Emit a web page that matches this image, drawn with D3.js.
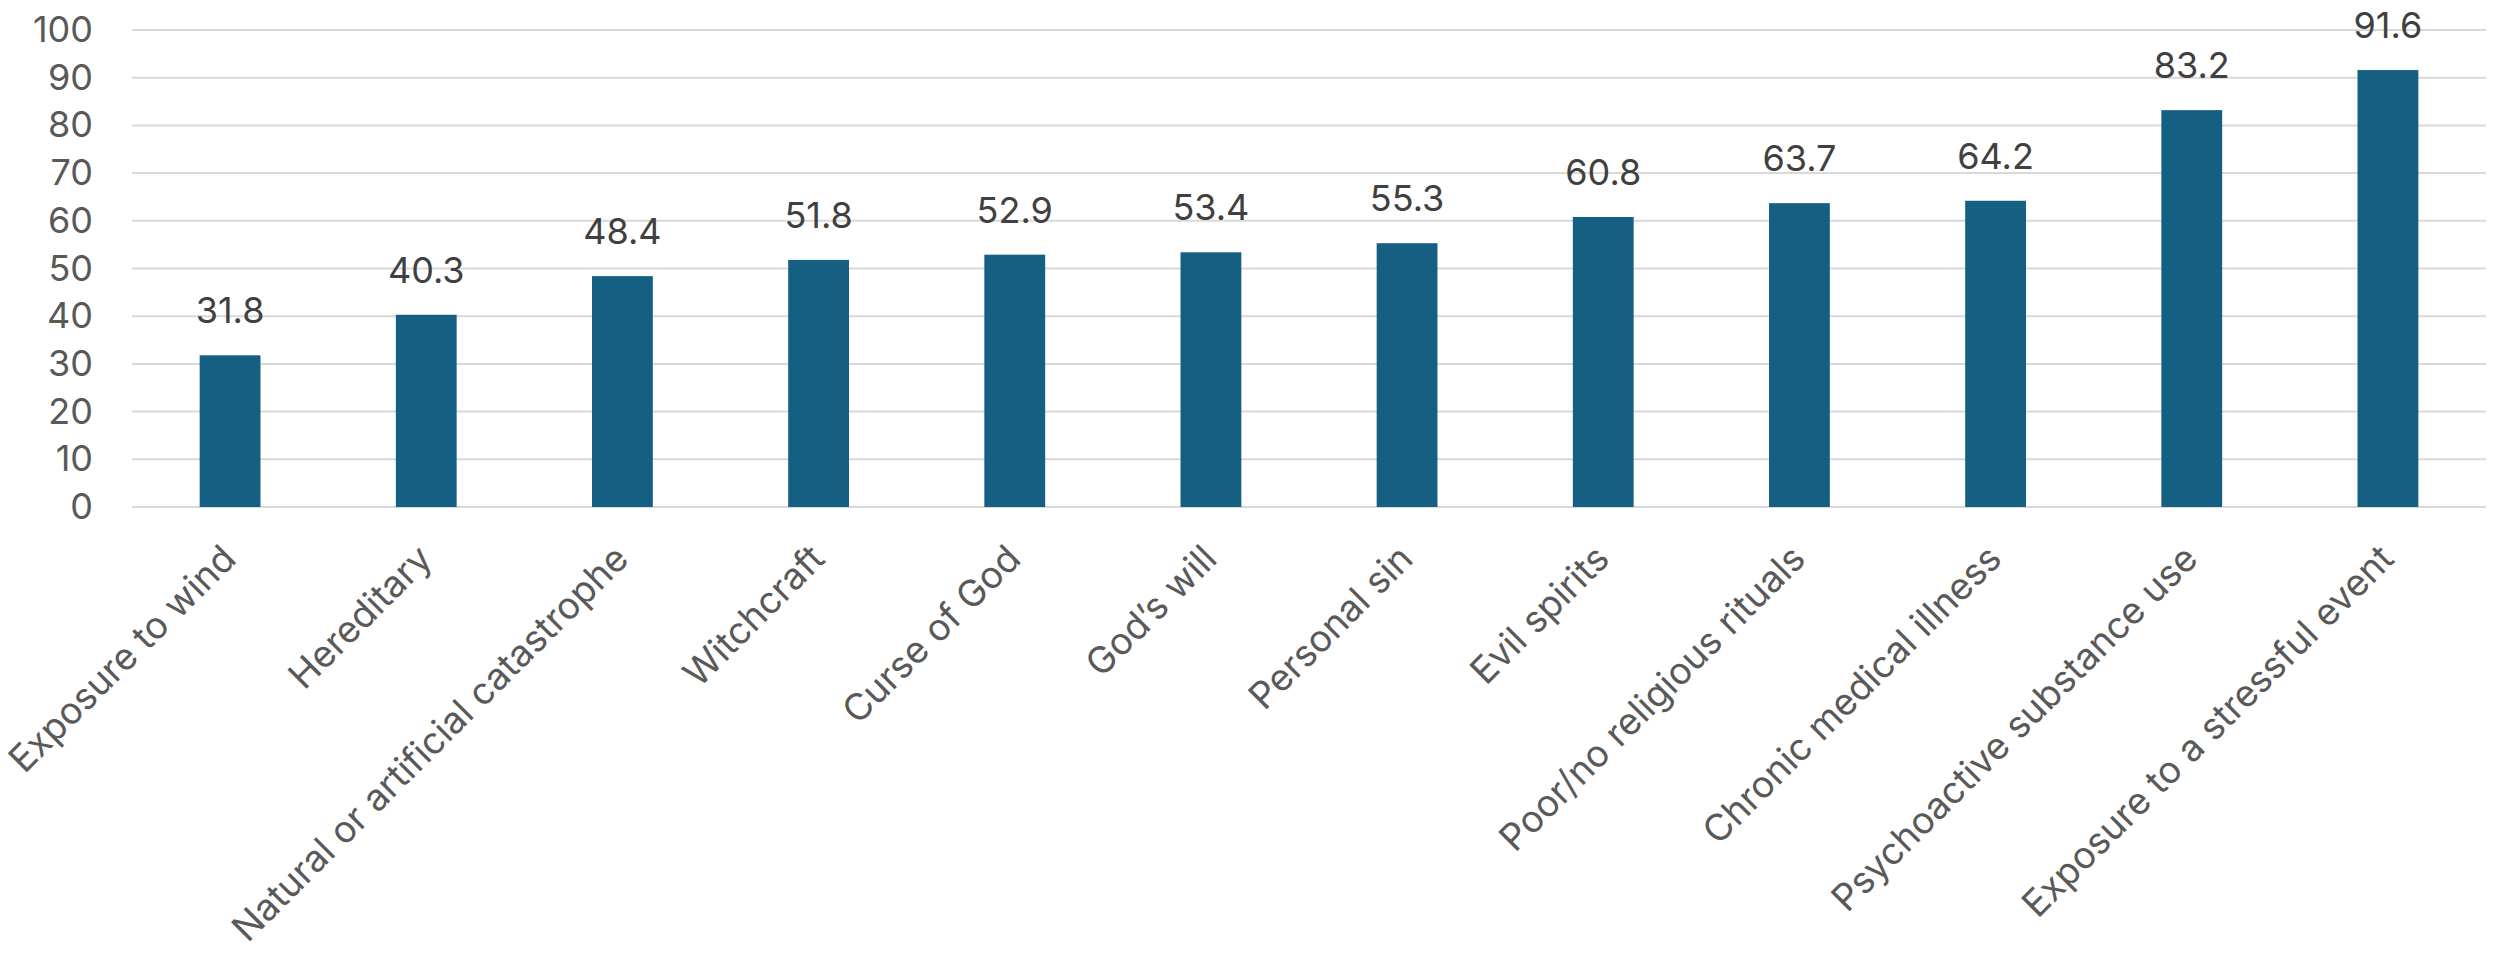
<!DOCTYPE html>
<html>
<head>
<meta charset="utf-8">
<script src="https://cdn.jsdelivr.net/npm/d3@7"></script>
<style>
  body { margin: 0; background: #fff; }
  #graf text { font-family: Inter, "Liberation Sans", Arial, sans-serif; }
</style>
</head>
<body>
<div id="graf"></div>
<script>
// data
const categories = [
  "Exposure to wind",
  "Hereditary",
  "Natural or artificial catastrophe",
  "Witchcraft",
  "Curse of God",
  "God\u2019s will",
  "Personal sin",
  "Evil spirits",
  "Poor/no religious rituals",
  "Chronic medical illness",
  "Psychoactive substance use",
  "Exposure to a stressful event",
];
const values = [31.8, 40.3, 48.4, 51.8, 52.9, 53.4, 55.3, 60.8, 63.7, 64.2, 83.2, 91.6];
const yTicks = [0, 10, 20, 30, 40, 50, 60, 70, 80, 90, 100];

const ancho_total = 2500;
const alto_total = 956;
const margins = { top: 30, left: 132, right: 14, bottom: 449 };
const ancho = ancho_total - margins.left - margins.right;
const alto = alto_total - margins.top - margins.bottom;

const data = categories.map((c, i) => ({ name: c, value: values[i] }));

const svg = d3
  .select("#graf")
  .append("svg")
  .attr("width", ancho_total)
  .attr("height", alto_total)
  .append("g")
  .attr("transform", `translate(${margins.left}, ${margins.top})`);

const x = d3.scaleBand().domain(categories).range([0, ancho]).paddingInner(0.69).paddingOuter(0.345);
const y = d3.scaleLinear().domain([0, 100]).range([alto, 0]);

// gridlines
svg
  .append("g")
  .selectAll("line")
  .data(yTicks)
  .join("line")
  .attr("x1", 0)
  .attr("x2", ancho)
  .attr("y1", (d) => y(d))
  .attr("y2", (d) => y(d))
  .attr("stroke", "#d9d9d9")
  .attr("stroke-width", 2);

// y axis labels
const yAxis = svg
  .append("g")
  .attr("transform", "translate(-39,0)")
  .call(d3.axisLeft(y).tickValues(yTicks).tickSize(0).tickPadding(0));
yAxis.select(".domain").remove();
yAxis
  .selectAll("text")
  .attr("font-size", "36px")
  .attr("fill", "#595959")
  .attr("font-family", null);

// bars
svg
  .selectAll(".bar")
  .data(data)
  .join("rect")
  .attr("class", "bar")
  .attr("x", (d) => x(d.name))
  .attr("width", x.bandwidth())
  .attr("y", (d) => y(d.value))
  .attr("height", (d) => alto - y(d.value))
  .attr("fill", "#156082");

// value labels
svg
  .selectAll(".valor")
  .data(data)
  .join("text")
  .attr("class", "valor")
  .attr("x", (d) => x(d.name) + x.bandwidth() / 2)
  .attr("y", (d) => y(d.value) - 32)
  .attr("text-anchor", "middle")
  .attr("font-size", "36px")
  .attr("fill", "#404040")
  .text((d) => d.value.toFixed(1));

// category labels, rotated
svg
  .selectAll(".cat")
  .data(categories)
  .join("text")
  .attr("class", "cat")
  .attr("transform", (d) => `translate(${x(d) + x.bandwidth() / 2 + 8}, ${alto + 54}) rotate(-45)`)
  .attr("text-anchor", "end")
  .attr("font-size", "37px")
  .attr("fill", "#595959")
  .text((d) => d);
</script>
</body>
</html>
